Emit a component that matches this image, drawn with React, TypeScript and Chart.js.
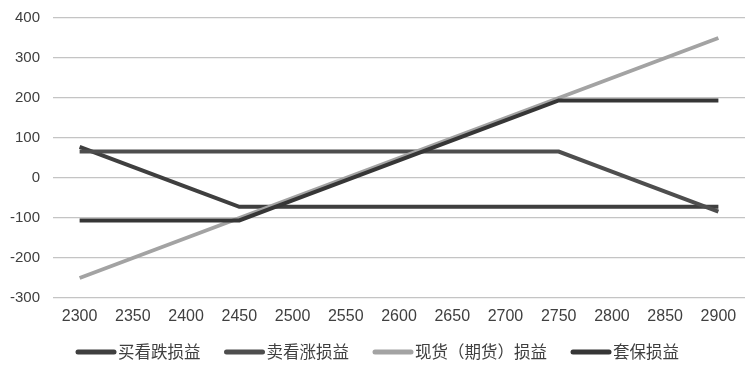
import React, { useEffect, useRef } from "react";
import { Chart, registerables } from "chart.js";

Chart.register(...registerables);

const categories = ["2300", "2350", "2400", "2450", "2500", "2550", "2600", "2650", "2700", "2750", "2800", "2850", "2900"];
const buyPut = [78, 28, -22, -72, -72, -72, -72, -72, -72, -72, -72, -72, -72];
const sellCall = [66, 66, 66, 66, 66, 66, 66, 66, 66, 66, 16, -34, -84];
const spot = [-250, -200, -150, -100, -50, 0, 50, 100, 150, 200, 250, 300, 350];
const hedge = [-106, -106, -106, -106, -56, -6, 44, 94, 144, 194, 194, 194, 194];
const seriesNames = ["买看跌损益", "卖看涨损益", "现货（期货）损益", "套保损益"];
const yTicks = [-300, -200, -100, 0, 100, 200, 300, 400];

const FONT = "'Liberation Sans', 'Noto Sans CJK SC', Arial, sans-serif";
const LEGEND_FONT = "16.5px 'Noto Sans CJK SC', 'Liberation Sans', sans-serif";

const bottomLegend = {
  id: "bottomLegend",
  afterDraw(chart: any) {
    const ctx = chart.ctx;
    ctx.save();
    ctx.font = LEGEND_FONT;
    ctx.textBaseline = "middle";
    ctx.textAlign = "left";
    const y = 352;
    let x = 76;
    chart.data.datasets.forEach((ds: any) => {
      ctx.strokeStyle = ds.borderColor;
      ctx.lineWidth = 5;
      ctx.lineCap = "round";
      ctx.beginPath();
      ctx.moveTo(x + 2, y);
      ctx.lineTo(x + 38, y);
      ctx.stroke();
      ctx.fillStyle = "#404040";
      ctx.fillText(ds.label, x + 42, y);
      x += 42 + ctx.measureText(ds.label).width + 24;
    });
    ctx.restore();
  },
};

export default function App() {
  const ref = useRef<HTMLCanvasElement | null>(null);
  useEffect(() => {
    document.body.style.margin = "0";
    const colors = ["#3f3f3f", "#4e4e4e", "#a3a3a3", "#363636"];
    const data = [buyPut, sellCall, spot, hedge];
    const orders = [3, 2, 1, 0];
    const chart = new Chart(ref.current!, {
      type: "line",
      data: {
        labels: categories,
        datasets: data.map((d, i) => ({
          label: seriesNames[i],
          data: d,
          borderColor: colors[i],
          backgroundColor: colors[i],
          borderWidth: 4,
          pointRadius: 0,
          tension: 0,
          order: orders[i],
        })),
      },
      plugins: [bottomLegend],
      options: {
        responsive: false,
        animation: false,
        layout: { padding: { left: 0, top: 18, right: 0, bottom: 42 } },
        plugins: {
          tooltip: { enabled: false },
          legend: { display: false },
        },
        scales: {
          x: {
            offset: true,
            grid: { display: false, drawTicks: false },
            border: { display: false },
            ticks: { font: { family: FONT, size: 16 }, color: "#404040", padding: 9, maxRotation: 0, autoSkip: false },
            afterFit: (s: any) => { s.height = 30; s.paddingLeft = 0; s.paddingRight = 0; },
          },
          y: {
            min: -300,
            max: 400,
            afterBuildTicks: (s: any) => { s.ticks = yTicks.map((v) => ({ value: v })); },
            grid: { color: "#c4c4c4", lineWidth: 1.2, drawTicks: false },
            border: { display: false },
            ticks: { font: { family: FONT, size: 15 }, color: "#404040", padding: 13 },
            afterFit: (s: any) => { s.width = 53; s.paddingTop = 0; s.paddingBottom = 0; },
          },
        },
      },
    });
    return () => chart.destroy();
  }, []);
  return (
    <div style={{ position: "absolute", left: 0, top: 0, width: 745, height: 370, background: "#fff" }}>
      <canvas ref={ref} width={745} height={370} style={{ width: 745, height: 370 }} />
    </div>
  );
}
